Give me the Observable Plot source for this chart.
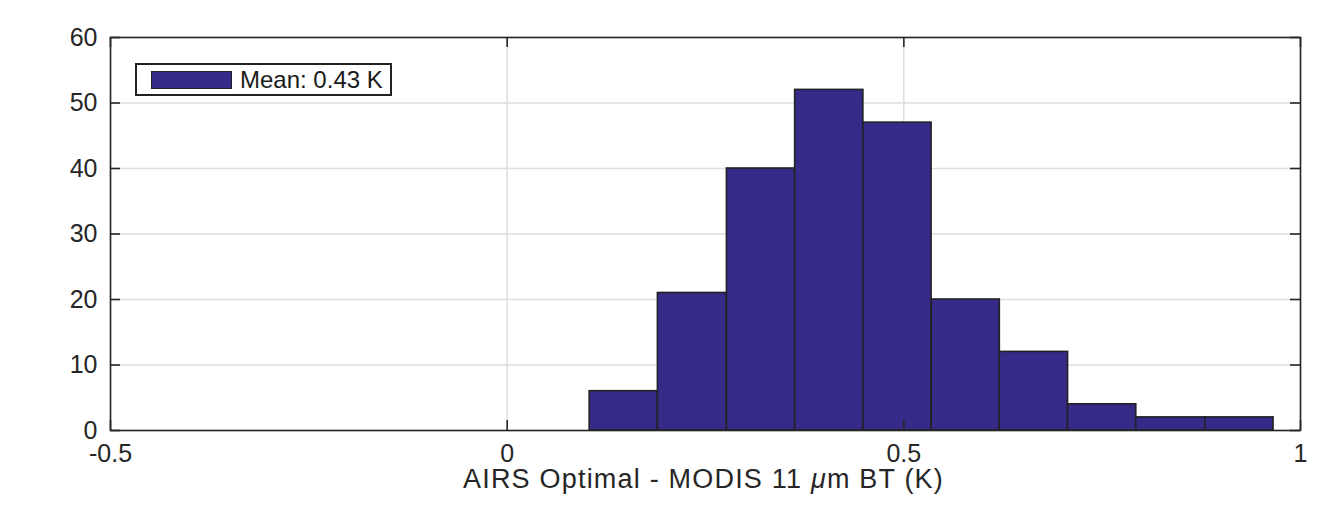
<!DOCTYPE html>
<html>
<head>
<meta charset="utf-8">
<script src="https://cdn.jsdelivr.net/npm/d3@7"></script>
<script src="https://cdn.jsdelivr.net/npm/@observablehq/plot@0.6"></script>
<style>
  html, body { margin: 0; padding: 0; background: #fff; }
  #wrap { position: relative; width: 1331px; height: 506px; font-family: "Liberation Sans", Arial, Helvetica, sans-serif; }
  #legend { position: absolute; left: 135px; top: 63px; width: 253px; height: 29px; border: 2px solid #222; background: #fff; box-sizing: content-box; }
  #legend .sw { position: absolute; left: 14px; top: 6px; width: 79px; height: 16px; background: #352a87; border: 1.5px solid #222; }
  #legend .lb { position: absolute; left: 103px; top: 0px; line-height: 29px; font-size: 24px; color: #1a1a1a; white-space: nowrap; }
</style>
</head>
<body>
<div id="wrap"></div>
<script>
// Histogram bin edges (K) and counts
const binEdges = [0.104, 0.190, 0.277, 0.363, 0.449, 0.535, 0.621, 0.707, 0.793, 0.880, 0.966];
const counts = [6, 21, 40, 52, 47, 20, 12, 4, 2, 2];
const xTicks = [-0.5, 0, 0.5, 1];
const xTickLabels = ["-0.5", "0", "0.5", "1"];
const yTicks = [0, 10, 20, 30, 40, 50, 60];
const xLabelParts = ["AIRS Optimal - MODIS 11 ", "\u03bc", "m BT (K)"];
const xLabel = xLabelParts.join("");
const legendLabel = "Mean: 0.43 K";

const bins = counts.map((c, i) => ({x1: binEdges[i], x2: binEdges[i + 1], count: c}));

const W = 1331, H = 506;
const mL = 110, mR = 31, mT = 37, mB = 76;
const plotW = W - mL - mR, plotH = H - mT - mB;
const tickLen = 10;
const ink = "#262626";
const font = "\"Liberation Sans\", Arial, Helvetica, sans-serif";

const chart = Plot.plot({
  width: W, height: H,
  marginLeft: mL, marginRight: mR, marginTop: mT, marginBottom: mB,
  style: {fontFamily: font, background: "#fff", color: ink},
  x: {domain: [-0.5, 1], ticks: xTicks},
  y: {domain: [0, 60], ticks: yTicks},
  marks: [
    Plot.gridX(xTicks, {stroke: "#dedede", strokeOpacity: 1, strokeWidth: 1.5}),
    Plot.gridY(yTicks, {stroke: "#dedede", strokeOpacity: 1, strokeWidth: 1.5}),
    Plot.rectY(bins, {x1: "x1", x2: "x2", y: "count", fill: "#352a87", stroke: "#222", strokeWidth: 1.6}),
    Plot.frame({stroke: ink, strokeWidth: 1.6}),
    // inward tick marks on all four sides
    Plot.tickX(xTicks, {x: d => d, insetTop: plotH - tickLen, stroke: ink, strokeWidth: 1.6}),
    Plot.tickX(xTicks, {x: d => d, insetBottom: plotH - tickLen, stroke: ink, strokeWidth: 1.6}),
    Plot.tickY(yTicks, {y: d => d, insetRight: plotW - tickLen, stroke: ink, strokeWidth: 1.6}),
    Plot.tickY(yTicks, {y: d => d, insetLeft: plotW - tickLen, stroke: ink, strokeWidth: 1.6}),
    Plot.axisX(xTicks, {tickSize: 0, tickPadding: 14, fontSize: 25, tickFormat: (d, i) => xTickLabels[i], label: null, fill: ink}),
    Plot.axisY(yTicks, {tickSize: 0, tickPadding: 13, fontSize: 25, label: null, fill: ink}),
    Plot.text([xLabel], {text: d => d, frameAnchor: "bottom", dx: -2, dy: 38, lineAnchor: "top", fontSize: 27, fill: ink})
  ]
});

// Style the x-axis label: italic mu (as in the TeX-rendered original) and wider tracking
for (const t of chart.querySelectorAll("text")) {
  if (t.textContent === xLabel) {
    t.setAttribute("letter-spacing", "1.2");
    const tsp = t.querySelector("tspan") || t;
    tsp.textContent = "";
    xLabelParts.forEach((p, i) => {
      const s = document.createElementNS("http://www.w3.org/2000/svg", "tspan");
      s.textContent = p;
      if (i === 1) s.setAttribute("font-style", "italic");
      tsp.appendChild(s);
    });
  }
}

const wrap = document.getElementById("wrap");
wrap.appendChild(chart);
const legend = document.createElement("div");
legend.id = "legend";
legend.innerHTML = '<div class="sw"></div><div class="lb"></div>';
legend.querySelector(".lb").textContent = legendLabel;
wrap.appendChild(legend);
</script>
</body>
</html>
